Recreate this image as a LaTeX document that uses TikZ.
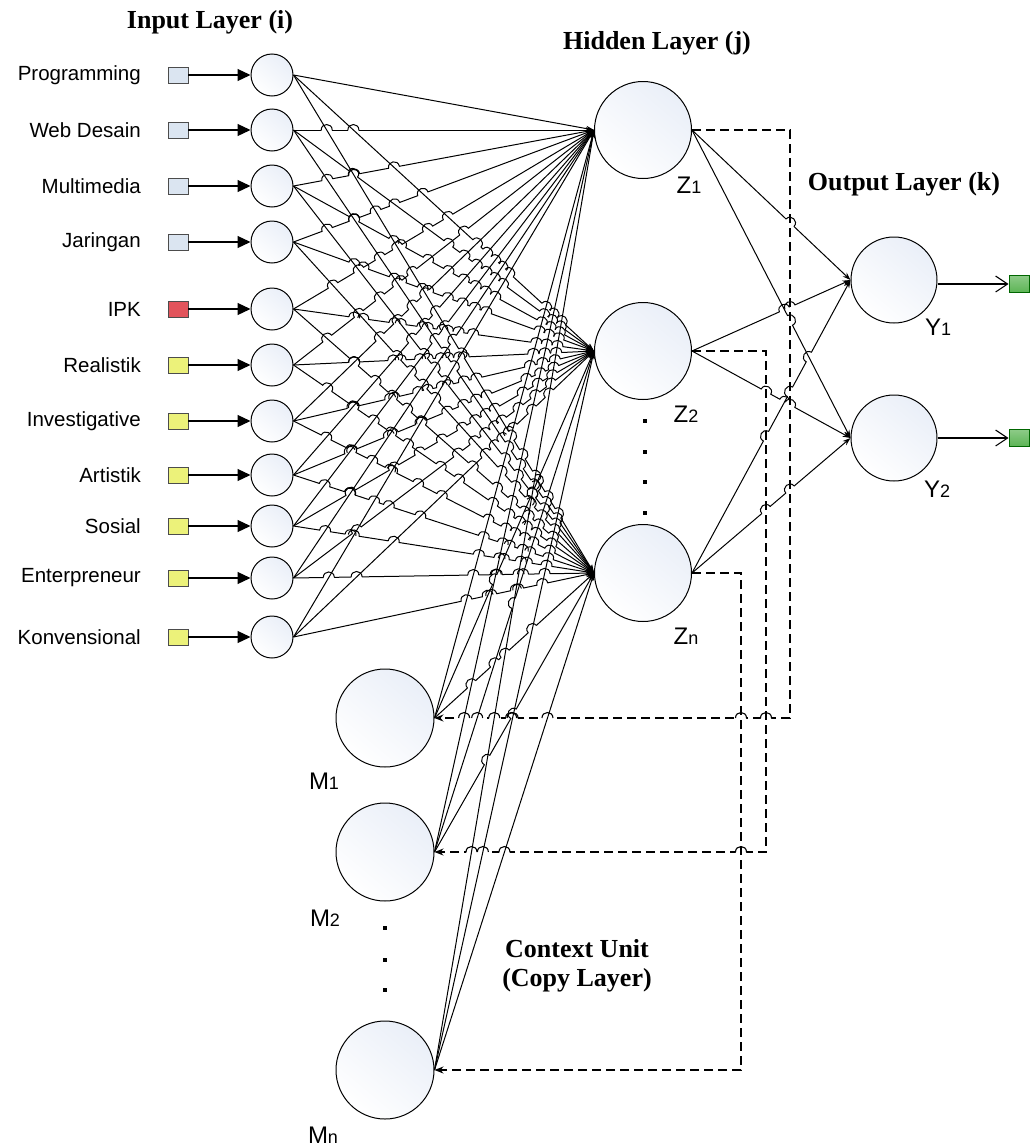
\documentclass[tikz,border=0pt]{standalone}
\usepackage{fontspec}
\setmainfont{Liberation Sans}
\newfontfamily\titlefont{Liberation Serif}
\usetikzlibrary{arrows.meta}
\definecolor{nfill}{RGB}{234,239,248}
\definecolor{sqblue}{RGB}{219,229,241}
\definecolor{sqred}{RGB}{226,84,92}
\definecolor{sqyellow}{RGB}{236,242,122}
\definecolor{sqgreen}{RGB}{92,180,84}
\newcommand\subdig[1]{{\fontsize{18}{20}\selectfont #1}}

% ---------- line-jump (hop) computation ----------
\let\hop\relax
\newcount\segN
\newcommand\hopr{5.5}
\newcommand\hoph{7.3}
\newcommand\segment[5]{%
  \global\advance\segN by 1
  \expandafter\xdef\csname sg@\the\segN\endcsname{{#1}{#2}{#3}{#4}{#5}}%
  \expandafter\gdef\csname hops@#5\endcsname{}%
}
\newcommand\getsegA[5]{\def\pAx{#1}\def\pAy{#2}\def\qAx{#3}\def\qAy{#4}\def\grpA{#5}}
\newcommand\getsegB[5]{\def\pBx{#1}\def\pBy{#2}\def\qBx{#3}\def\qBy{#4}\def\grpB{#5}}
\newcommand\addhop[6]{%
  \edef\hdx{\fpeval{(#3)-(#1)}}%
  \edef\hdy{\fpeval{(#4)-(#2)}}%
  \edef\hL{\fpeval{sqrt((\hdx)*(\hdx)+(\hdy)*(\hdy))}}%
  \edef\hux{\fpeval{(\hdx)/(\hL)}}%
  \edef\huy{\fpeval{(\hdy)/(\hL)}}%
  \ifnum\fpeval{\hdx>0}=1
    \edef\hnx{\huy}\edef\hny{\fpeval{0-(\hux)}}%
  \else
    \edef\hnx{\fpeval{0-(\huy)}}\edef\hny{\hux}%
  \fi
  \edef\hpx{\fpeval{(#1)+(#5)*(\hdx)}}%
  \edef\hpy{\fpeval{(#2)+(#5)*(\hdy)}}%
  \edef\hAx{\fpeval{round((\hpx)-\hopr*(\hux),2)}}%
  \edef\hAy{\fpeval{round((\hpy)-\hopr*(\huy),2)}}%
  \edef\hBx{\fpeval{round((\hpx)+\hopr*(\hux),2)}}%
  \edef\hBy{\fpeval{round((\hpy)+\hopr*(\huy),2)}}%
  \edef\hCx{\fpeval{round((\hAx)+\hoph*(\hnx),2)}}%
  \edef\hCy{\fpeval{round((\hAy)+\hoph*(\hny),2)}}%
  \edef\hDx{\fpeval{round((\hBx)+\hoph*(\hnx),2)}}%
  \edef\hDy{\fpeval{round((\hBy)+\hoph*(\hny),2)}}%
  \edef\hPx{\fpeval{round(\hpx,2)}}%
  \edef\hPy{\fpeval{round(\hpy,2)}}%
  \expandafter\xdef\csname hops@#6\endcsname{\csname hops@#6\endcsname\noexpand\hop{\hAx,\hAy}{\hCx,\hCy}{\hDx,\hDy}{\hBx,\hBy}{\hPx,\hPy}}%
}
\newcommand\checkpair{%
  \edef\dd{\fpeval{((\qAx)-(\pAx))*((\qBy)-(\pBy))-((\qAy)-(\pAy))*((\qBx)-(\pBx))}}%
  \ifnum\fpeval{abs(\dd)>0.000001}=1
    \edef\parT{\fpeval{(((\pBx)-(\pAx))*((\qBy)-(\pBy))-((\pBy)-(\pAy))*((\qBx)-(\pBx)))/(\dd)}}%
    \edef\parU{\fpeval{(((\pBx)-(\pAx))*((\qAy)-(\pAy))-((\pBy)-(\pAy))*((\qAx)-(\pAx)))/(\dd)}}%
    \ifnum\fpeval{(\parT>0.005)&&(\parT<0.995)&&(\parU>0.005)&&(\parU<0.995)}=1
      \ifnum\fpeval{abs((\qAy)-(\pAy))*abs((\qBx)-(\pBx)) < abs((\qBy)-(\pBy))*abs((\qAx)-(\pAx))}=1
        \addhop{\pAx}{\pAy}{\qAx}{\qAy}{\parT}{\grpA}%
      \else
        \addhop{\pBx}{\pBy}{\qBx}{\qBy}{\parU}{\grpB}%
      \fi
    \fi
  \fi
}
% register all connector segments (numbers = node anchor positions)
\foreach \i/\yy in {1/75,2/130,3/186,4/242,5/309,6/365,7/421,8/475,9/526,10/578,11/637}{%
  \foreach \j/\zz in {1/130,2/351,3/573}{%
    \segment{293.5}{\yy}{594}{\zz}{x\i-z\j}}}
\foreach \m/\mm in {1/718,2/852,3/1070}{%
  \foreach \j/\zz in {1/130,2/351,3/573}{%
    \segment{434.5}{\mm}{594}{\zz}{m\m-z\j}}}
\foreach \j/\zz in {1/130,2/351,3/573}{%
  \foreach \k/\kk in {1/280,2/438}{%
    \segment{692}{\zz}{850.5}{\kk}{z\j-y\k}}}
\segment{692}{130}{790}{130}{d1}\segment{790}{130}{790}{718}{d1}\segment{790}{718}{434.5}{718}{d1}
\segment{692}{351}{766}{351}{d2}\segment{766}{351}{766}{852}{d2}\segment{766}{852}{434.5}{852}{d2}
\segment{692}{573}{741}{573}{d3}\segment{741}{573}{741}{1070}{d3}\segment{741}{1070}{434.5}{1070}{d3}
\edef\nsegs{\the\segN}
\foreach \a in {1,...,\nsegs}{%
  \expandafter\expandafter\expandafter\getsegA\csname sg@\a\endcsname
  \foreach \b in {\a,...,\nsegs}{%
    \ifnum\b>\a\relax
      \expandafter\expandafter\expandafter\getsegB\csname sg@\b\endcsname
      \checkpair
    \fi
  }%
}
\newcommand\drawgroup[3]{%
  \begin{scope}[even odd rule]
    \def\hop##1##2##3##4##5{\clip (-100,-100) rectangle (1200,1300) (##5) circle[radius=\hopr];}%
    \csname hops@#1\endcsname
    #3
  \end{scope}
  \def\hop##1##2##3##4##5{\draw[#2] (##1) .. controls (##2) and (##3) .. (##4);}%
  \csname hops@#1\endcsname
}

\begin{document}
\begin{tikzpicture}[x=1pt,y=-1pt,
  neuron/.style={circle, draw, line width=1pt, top color=nfill, bottom color=white, shading angle=-40, inner sep=0pt},
  innode/.style={neuron, minimum size=42pt},
  hidnode/.style={neuron, minimum size=97pt},
  outnode/.style={neuron, minimum size=86pt},
  ctxnode/.style={neuron, minimum size=98pt},
  sqnode/.style={rectangle, draw=black!70, line width=0.8pt, minimum width=20pt, minimum height=16pt, inner sep=0pt},
  lbl/.style={font=\fontsize{20.5}{24}\selectfont, inner sep=0pt},
  nlbl/.style={font=\fontsize{24}{28}\selectfont, inner sep=0pt},
  dotnode/.style={rectangle, fill=black, minimum size=3.5pt, inner sep=0pt},
  ttl/.style={font=\titlefont\bfseries\fontsize{26}{30}\selectfont, inner sep=0pt, align=center},
  conn/.style={line width=1pt, -{Stealth[length=8pt,width=5.5pt]}},
  hopline/.style={line width=1pt},
  dhop/.style={line width=1.1pt},
  inarrow/.style={line width=1.2pt, -{Triangle[length=13pt,width=12pt]}},
  outarrow/.style={line width=1.1pt, -{Straight Barb[length=12pt,width=16pt]}},
  copyline/.style={line width=1.1pt, dash pattern=on 9pt off 5pt, -{Stealth[length=9pt,width=7pt]}}
]
\useasboundingbox (0,0) rectangle (1029,1146);

% titles
\node[ttl] (tin) at (210,22) {Input Layer (i)};
\node[ttl] (thid) at (657,43) {Hidden Layer (j)};
\node[ttl] (tout) at (904,184) {Output Layer (k)};
\node[ttl] (tctx) at (577,966) {Context Unit\\[-1pt](Copy Layer)};

% hidden nodes
\node[hidnode] (z1) at (643,130) {};
\node[hidnode] (z2) at (643,351) {};
\node[hidnode] (z3) at (643,573) {};
% output nodes
\node[outnode] (y1) at (894,280) {};
\node[outnode] (y2) at (894,438) {};
% context nodes
\node[ctxnode] (m1) at (385,718) {};
\node[ctxnode] (m2) at (385,852) {};
\node[ctxnode] (m3) at (385,1070) {};

% input nodes with labels and squares
\foreach \i/\yy/\txt/\col in {1/75/Programming/sqblue, 2/130/Web Desain/sqblue, 3/186/Multimedia/sqblue, 4/242/Jaringan/sqblue, 5/309/IPK/sqred, 6/365/Realistik/sqyellow, 7/421/Investigative/sqyellow, 8/475/Artistik/sqyellow, 9/526/Sosial/sqyellow, 10/578/Enterpreneur/sqyellow, 11/637/Konvensional/sqyellow}{
  \node[innode] (x\i) at (272,\yy) {};
  \node[sqnode, fill=\col] (s\i) at (178,\yy) {};
  \node[lbl, anchor=east] (l\i) at (141,\yy) {\txt};
  \draw[inarrow] (s\i.east) -- (x\i.west);
}

% input -> hidden
\foreach \i in {1,...,11}{
  \foreach \j in {1,2,3}{
    \drawgroup{x\i-z\j}{hopline}{\draw[conn] (x\i.east) -- (z\j.west);}
  }
}
% context -> hidden
\foreach \m in {1,2,3}{
  \foreach \j in {1,2,3}{
    \drawgroup{m\m-z\j}{hopline}{\draw[conn] (m\m.east) -- (z\j.west);}
  }
}
% hidden -> output
\foreach \j in {1,2,3}{
  \foreach \k in {1,2}{
    \drawgroup{z\j-y\k}{hopline}{\draw[conn] (z\j.east) -- (y\k.west);}
  }
}

% copy (dashed) lines
\coordinate (c1a) at (790,130);
\coordinate (c1b) at (790,718);
\coordinate (c2a) at (766,351);
\coordinate (c2b) at (766,852);
\coordinate (c3a) at (741,573);
\coordinate (c3b) at (741,1070);
\drawgroup{d1}{dhop}{\draw[copyline] (z1.east) -- (c1a) -- (c1b) -- (m1.east);}
\drawgroup{d2}{dhop}{\draw[copyline] (z2.east) -- (c2a) -- (c2b) -- (m2.east);}
\drawgroup{d3}{dhop}{\draw[copyline] (z3.east) -- (c3a) -- (c3b) -- (m3.east);}

% output squares
\node[sqnode, draw=green!40!black, top color=sqgreen!70!white, bottom color=sqgreen, minimum height=17pt] (o1) at (1019,284) {};
\node[sqnode, draw=green!40!black, top color=sqgreen!70!white, bottom color=sqgreen, minimum height=17pt] (o2) at (1019,438) {};
\draw[outarrow] (y1.east |- o1.west) -- (o1.west);
\draw[outarrow] (y2.east) -- (o2.west);

% node labels
\node[nlbl] (lz1) at (689,185) {Z\subdig{1}};
\node[nlbl] (lz2) at (686,414) {Z\subdig{2}};
\node[nlbl] (lz3) at (686,636) {Z\subdig{n}};
\node[nlbl] (ly1) at (938,327) {Y\subdig{1}};
\node[nlbl] (ly2) at (937,489) {Y\subdig{2}};
\node[nlbl] (lm1) at (324,781) {M\subdig{1}};
\node[nlbl] (lm2) at (325,918) {M\subdig{2}};
\node[nlbl] (lm3) at (323,1135) {M\subdig{n}};

% dots
\foreach \yy [count=\n] in {421,452,482,513}{
  \node[dotnode] (dz\n) at (645,\yy) {};
}
\foreach \yy [count=\n] in {928,960,990}{
  \node[dotnode] (dm\n) at (385,\yy) {};
}
\end{tikzpicture}
\end{document}
